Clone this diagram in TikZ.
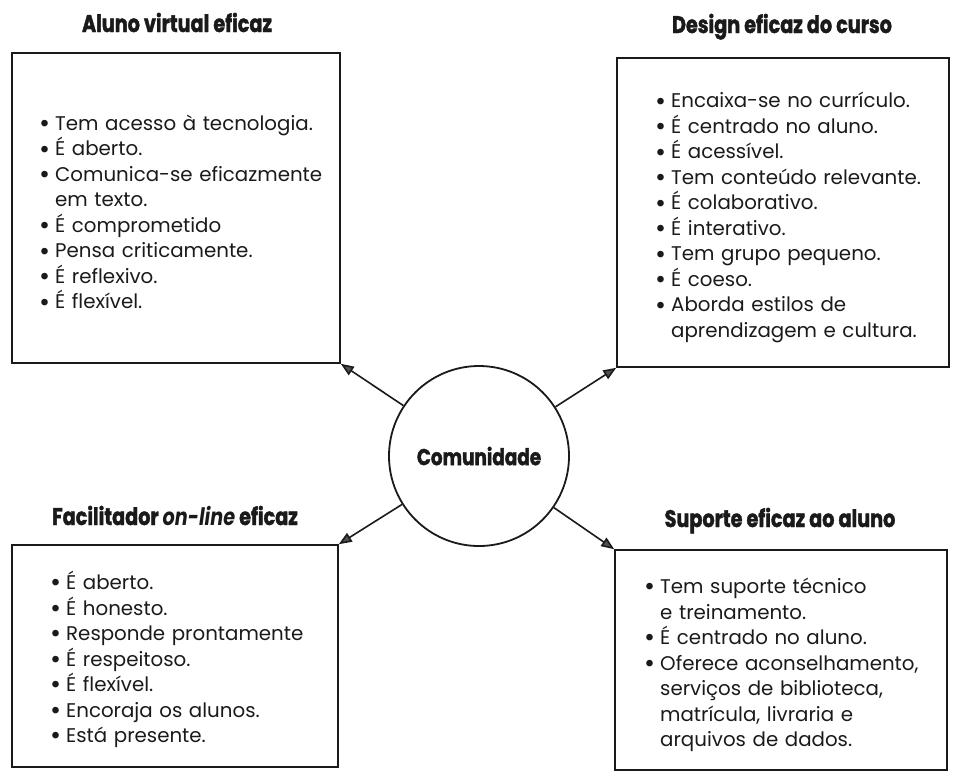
\documentclass[tikz,border=0pt]{standalone}
\usepackage{fontspec}
\setmainfont{Poppins}
\newfontfamily\headfont{Poppins}[FakeStretch=0.8, BoldFeatures={FakeBold=1.6}]
\usetikzlibrary{arrows.meta, positioning}
\definecolor{inkline}{HTML}{1a1a1a}
\definecolor{tipgray}{HTML}{505050}
\newcommand{\bitem}[1]{\par\hangindent=16pt\hangafter=1\noindent\makebox[16pt][l]{\raisebox{-2.2pt}{\scalebox{1.35}{\textbullet}}}#1\par}

\begin{document}
\begin{tikzpicture}[x=1pt, y=-1pt,
  box/.style={draw=inkline, line width=1.6pt, inner sep=0pt},
  itemlist/.style={inner sep=0pt, anchor=west, text width=320pt, align=left,
    text=inkline, font=\fontsize{19.8}{25.5}\selectfont},
  heading/.style={anchor=base, text=inkline, font=\headfont\bfseries\fontsize{24}{26}\selectfont},
  hub/.style={circle, draw=inkline, line width=1.8pt, minimum size=180pt, inner sep=0pt,
    text=inkline, font=\headfont\bfseries\fontsize{23}{26}\selectfont},
  link/.style={draw=inkline, line width=1.6pt, -{Triangle[length=13pt, width=10pt, fill=tipgray]}}]
  \useasboundingbox (0,0) rectangle (957,777);

  \node[hub] (hub) at (479,456) {Comunidade};

  \node[box, minimum width=328pt, minimum height=310pt] (boxA) at (176,208) {};
  \node[box, minimum width=332pt, minimum height=309pt] (boxB) at (783,212.5) {};
  \node[box, minimum width=326pt, minimum height=222pt] (boxC) at (175,656) {};
  \node[box, minimum width=332pt, minimum height=220pt] (boxD) at (781,660) {};

  \node[heading] (headA) at (177,32) {Aluno virtual eficaz};
  \node[heading] (headB) at (782,33) {Design eficaz do curso};
  \node[heading] (headC) at (175,525) {Facilitador \textit{on-line} eficaz};
  \node[heading] (headD) at (780,527) {Suporte eficaz ao aluno};

  \node[itemlist] (listA) at (39,208) {
    \bitem{Tem acesso à tecnologia.}
    \bitem{É aberto.}
    \bitem{Comunica-se eficazmente\newline em texto.}
    \bitem{É comprometido}
    \bitem{Pensa criticamente.}
    \bitem{É reflexivo.}
    \bitem{É flexível.}};
  \node[itemlist] (listB) at (655,212.5) {
    \bitem{Encaixa-se no currículo.}
    \bitem{É centrado no aluno.}
    \bitem{É acessível.}
    \bitem{Tem conteúdo relevante.}
    \bitem{É colaborativo.}
    \bitem{É interativo.}
    \bitem{Tem grupo pequeno.}
    \bitem{É coeso.}
    \bitem{Aborda estilos de\newline aprendizagem e cultura.}};
  \node[itemlist] (listC) at (50,656) {
    \bitem{É aberto.}
    \bitem{É honesto.}
    \bitem{Responde prontamente}
    \bitem{É respeitoso.}
    \bitem{É flexível.}
    \bitem{Encoraja os alunos.}
    \bitem{Está presente.}};
  \node[itemlist] (listD) at (644,660) {
    \bitem{Tem suporte técnico\newline e treinamento.}
    \bitem{É centrado no aluno.}
    \bitem{Oferece aconselhamento,\newline serviços de biblioteca,\newline matrícula, livraria e\newline arquivos de dados.}};

  \draw[link] (hub) -- (boxA.south east);
  \draw[link] (hub) -- (boxB.south west);
  \draw[link] (hub) -- (boxC.north east);
  \draw[link] (hub) -- (boxD.north west);
\end{tikzpicture}
\end{document}
